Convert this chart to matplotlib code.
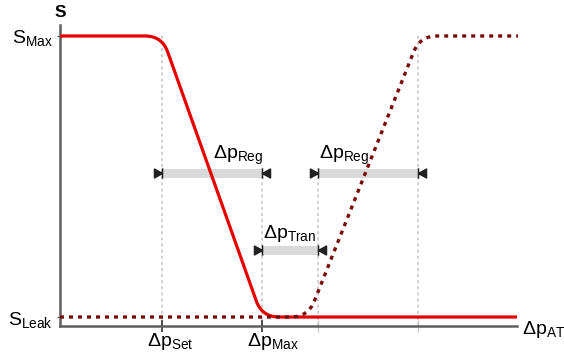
import matplotlib
matplotlib.use('Agg')
import matplotlib.pyplot as plt
from matplotlib.path import Path
from matplotlib.patches import PathPatch
import numpy as np

plt.rcParams['font.family'] = ['Liberation Sans', 'DejaVu Sans']
plt.rcParams['mathtext.fontset'] = 'custom'
plt.rcParams['mathtext.rm'] = 'Liberation Sans'
plt.rcParams['mathtext.it'] = 'Liberation Sans:italic'
plt.rcParams['mathtext.bf'] = 'Liberation Sans:bold'
plt.rcParams['mathtext.default'] = 'rm'

# ---- data ----
red_x = [-0.02, 1.0, 2.0, 4.55]
red_y = [1.0, 1.0, 0.0, 0.0]
dot_x = [-0.02, 2.46, 3.58, 4.56]
dot_y = [0.0, 0.0, 1.0, 1.0]

guide_x = [1.0, 2.0, 2.56, 3.56]
guide_top = [1.01, 0.48, 0.48, 1.01]

bar_names = ['Reg', 'Tran', 'Reg']
bar_start = [1.0, 2.0, 2.56]
bar_end = [2.0, 2.56, 3.56]
bar_y = [0.512, 0.238, 0.512]
bar_label_side = ['right', 'left', 'left']

xtick_pos = [1.0, 2.0]
xtick_labels = [r'$\Delta p_{Set}$', r'$\Delta p_{Max}$']
minor_xtick_pos = [2.56, 3.56]
ytick_pos = [0.0, 1.0]
ytick_labels = [r'$S_{Leak}$', r'$S_{Max}$']

# ---- figure ----
fig = plt.figure(figsize=(5.64, 3.6), dpi=100)
ax = fig.add_axes([0, 0, 1, 1])
ax.set_xlim(-0.62, 5.02)
ax.set_ylim(-0.153, 1.128)

for s in ['top', 'right']:
    ax.spines[s].set_visible(False)
axis_col = '#5f5f5f'
ax.spines['left'].set_position(('data', -0.02))
ax.spines['left'].set_bounds(-0.032, 1.04)
ax.spines['bottom'].set_position(('data', -0.032))
ax.spines['bottom'].set_bounds(-0.02, 4.55)
for s in ['left', 'bottom']:
    ax.spines[s].set_color(axis_col)
    ax.spines[s].set_linewidth(1.8)

ax.set_yticks(ytick_pos)
ax.set_yticklabels(ytick_labels, fontsize=14)
ax.tick_params(axis='y', direction='inout', length=5, width=1.0, color=axis_col, pad=3)
ax.set_xticks(xtick_pos)
ax.set_xticklabels([])
ax.set_xticks(minor_xtick_pos, minor=True)
ax.tick_params(axis='x', which='major', direction='inout', length=8, width=1.2, color='#333333')
ax.tick_params(axis='x', which='minor', direction='inout', length=8, width=1.0, color='#c8c8c8')

for xp, lab in zip(xtick_pos, xtick_labels):
    ax.text(xp - 0.15, -0.05, lab, fontsize=14, ha='left', va='top')

# guide lines
for gx, gt in zip(guide_x, guide_top):
    ax.vlines(gx, -0.032, gt, colors='#c4c4c4', linestyles=(0, (2, 2)), linewidth=1.1, zorder=1)


def rounded_path(xs, ys, r_px):
    pts = ax.transData.transform(np.column_stack([xs, ys]))
    verts = [pts[0]]
    codes = [Path.MOVETO]
    for i in range(1, len(pts) - 1):
        p0, p1, p2 = pts[i - 1], pts[i], pts[i + 1]
        d1 = (p0 - p1) / np.linalg.norm(p0 - p1)
        d2 = (p2 - p1) / np.linalg.norm(p2 - p1)
        verts += [p1 + d1 * r_px, p1, p1 + d2 * r_px]
        codes += [Path.LINETO, Path.CURVE3, Path.CURVE3]
    verts.append(pts[-1])
    codes.append(Path.LINETO)
    verts = ax.transData.inverted().transform(np.array(verts))
    return Path(verts, codes)


red_patch = PathPatch(rounded_path(red_x, red_y, 17), fill=False, edgecolor='#e60000',
                      linewidth=2.3, zorder=3, capstyle='butt')
ax.add_patch(red_patch)
dot_patch = PathPatch(rounded_path(dot_x, dot_y, 17), fill=False, edgecolor='#7a0a0a',
                      linewidth=2.4, linestyle=(0, (1.2, 1.5)), zorder=4)
ax.add_patch(dot_patch)

# range bars
bh = 9 / 281.0
ax.barh(bar_y, np.array(bar_end) - np.array(bar_start), left=bar_start, height=bh,
        color='#d9d9d9', zorder=2)

left_marker = Path([(-1, -0.55), (0, 0), (-1, 0.55), (-1, -0.55), (0, -0.65), (0, 0.65)],
                   [Path.MOVETO, Path.LINETO, Path.LINETO, Path.CLOSEPOLY, Path.MOVETO, Path.LINETO])
right_marker = Path([(1, -0.55), (0, 0), (1, 0.55), (1, -0.55), (0, -0.65), (0, 0.65)],
                    [Path.MOVETO, Path.LINETO, Path.LINETO, Path.CLOSEPOLY, Path.MOVETO, Path.LINETO])
ax.plot(bar_start, bar_y, linestyle='none', marker=left_marker, markersize=11.5,
        color='#222222', markeredgewidth=1.1, zorder=5)
ax.plot(bar_end, bar_y, linestyle='none', marker=right_marker, markersize=11.5,
        color='#222222', markeredgewidth=1.1, zorder=5)

for name, xs, xe, yb, side in zip(bar_names, bar_start, bar_end, bar_y, bar_label_side):
    xt = xe + 0.01 if side == 'right' else xs + 0.01
    ax.text(xt, yb + 0.02, r'$\Delta p_{%s}$' % name, fontsize=14, ha=side, va='bottom', zorder=6)

ax.text(-0.02, 1.085, 'S', fontsize=12.5, fontweight='bold', ha='center', va='center')
ax.text(4.6, -0.046, r'$\Delta p_{AT}$', fontsize=14, ha='left', va='center')

fig.savefig('out.png', dpi=100)
